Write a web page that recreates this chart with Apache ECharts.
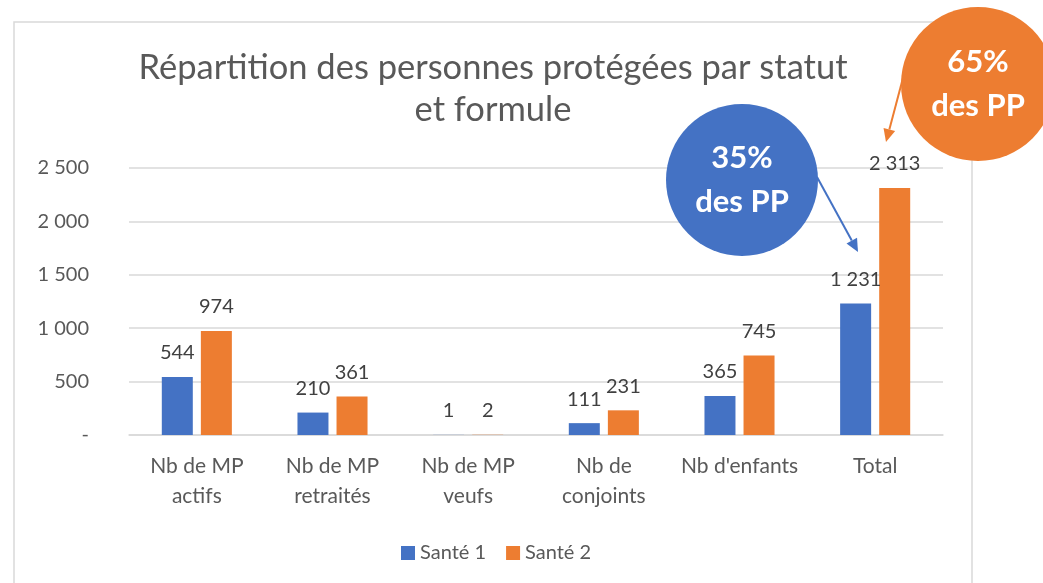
<!DOCTYPE html>
<html>
<head>
<meta charset="utf-8">
<script src="https://cdn.jsdelivr.net/npm/echarts@6/dist/echarts.min.js"></script>
<style>
  html, body { margin: 0; padding: 0; background: #fff; }
  #chart { width: 1043px; height: 583px; }
</style>
</head>
<body>
<div id="chart"></div>
<script>
// data
var categories = ['Nb de MP\nactifs', 'Nb de MP\nretraités', 'Nb de MP\nveufs', 'Nb de\nconjoints', "Nb d'enfants", 'Total']
var sante1 = [544, 210, 1, 111, 365, 1231]
var sante2 = [974, 361, 2, 231, 745, 2313]
var seriesNames = ['Santé 1', 'Santé 2']
var yTicks = [0, 500, 1000, 1500, 2000, 2500]

var FONT = 'Lato'
var BLUE = '#4472C4'
var ORANGE = '#ED7D31'

function fmt(v) {
  if (v === 0) return '-'
  return String(v).replace(/\B(?=(\d{3})+(?!\d))/g, ' ')
}

// arrow = line + triangle head
function arrow(x1, y1, x2, y2, color) {
  var ang = Math.atan2(y2 - y1, x2 - x1)
  var len = 13, w = 6
  var bx = x2 - Math.cos(ang) * len, by = y2 - Math.sin(ang) * len
  var px = -Math.sin(ang) * w, py = Math.cos(ang) * w
  return [
    { type: 'line', z: 10, shape: { x1: x1, y1: y1, x2: bx, y2: by }, style: { stroke: color, lineWidth: 2 } },
    { type: 'polygon', z: 10, shape: { points: [[x2, y2], [bx + px, by + py], [bx - px, by - py]] }, style: { fill: color } }
  ]
}

function bubble(cx, cy, r, color, text) {
  return [
    { type: 'circle', z: 11, shape: { cx: cx, cy: cy, r: r }, style: { fill: color } },
    { type: 'text', z: 12, x: cx, y: cy, style: { text: text, fill: '#fff', font: 'bold 31px ' + FONT, align: 'center', verticalAlign: 'middle', lineHeight: 44 } }
  ]
}

var chart = echarts.init(document.getElementById('chart'))

var graphics = [
  { type: 'rect', z: -1, shape: { x: 14, y: 22, width: 958, height: 600 }, style: { fill: '#fff', stroke: '#d9d9d9', lineWidth: 1.5 } },
  { type: 'text', x: 493, y: 47, style: { text: 'Répartition des personnes protégées par statut\net formule', font: '34.5px ' + FONT, fill: '#595959', align: 'center', lineHeight: 42 } }
]
graphics = graphics.concat(arrow(817, 177, 858, 252, BLUE))
graphics = graphics.concat(arrow(903, 78, 886, 142, ORANGE))
graphics = graphics.concat(bubble(742, 180, 76, BLUE, '35%\ndes PP'))
graphics = graphics.concat(bubble(978, 84, 77, ORANGE, '65%\ndes PP'))

chart.setOption({
  animation: false,
  textStyle: { fontFamily: FONT },
  legend: {
    data: seriesNames,
    left: 396,
    top: 538,
    icon: 'rect',
    itemWidth: 14,
    itemHeight: 14,
    itemGap: 20,
    textStyle: { fontSize: 20, color: '#595959', fontFamily: FONT }
  },
  grid: { left: 129, right: 100, top: 168, bottom: 148 },
  xAxis: {
    type: 'category',
    data: categories,
    axisLine: { lineStyle: { color: '#d9d9d9', width: 1.5 } },
    axisTick: { show: false },
    axisLabel: { fontSize: 21, color: '#595959', lineHeight: 30, margin: 16, interval: 0 }
  },
  yAxis: {
    type: 'value',
    min: yTicks[0],
    max: yTicks[yTicks.length - 1],
    interval: 500,
    axisLine: { show: false },
    axisTick: { show: false },
    splitLine: { lineStyle: { color: '#d9d9d9', width: 1.5 } },
    axisLabel: { fontSize: 20, color: '#595959', margin: 40, formatter: fmt }
  },
  series: [
    {
      name: seriesNames[0], type: 'bar', data: sante1,
      itemStyle: { color: BLUE },
      barWidth: 31, barGap: '26%',
      label: { show: true, position: 'top', distance: 14, fontSize: 20, color: '#404040', formatter: function (p) { return fmt(p.value) } }
    },
    {
      name: seriesNames[1], type: 'bar', data: sante2,
      itemStyle: { color: ORANGE },
      barWidth: 31, barGap: '26%',
      label: { show: true, position: 'top', distance: 14, fontSize: 20, color: '#404040', formatter: function (p) { return fmt(p.value) } }
    }
  ],
  graphic: graphics
})
</script>
</body>
</html>
